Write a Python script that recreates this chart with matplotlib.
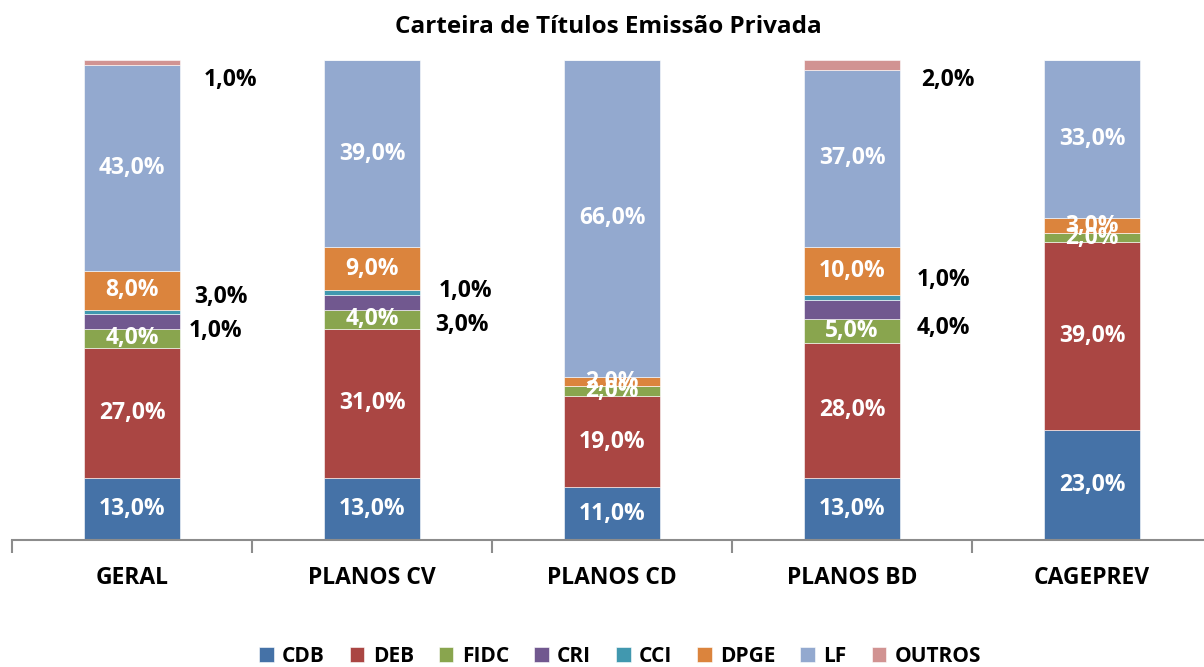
import numpy as np
import matplotlib.pyplot as plt

plt.rcParams['font.family'] = ['Open Sans', 'DejaVu Sans']
plt.rcParams['font.weight'] = 'bold'

categorias = ['GERAL', 'PLANOS CV', 'PLANOS CD', 'PLANOS BD', 'CAGEPREV']
series = ['CDB', 'DEB', 'FIDC', 'CRI', 'CCI', 'DPGE', 'LF', 'OUTROS']

cdb = [13, 13, 11, 13, 23]
deb = [27, 31, 19, 28, 39]
fidc = [4, 4, 2, 5, 2]
cri = [3, 3, 0, 4, 0]
cci = [1, 1, 0, 1, 0]
dpge = [8, 9, 2, 10, 3]
lf = [43, 39, 66, 37, 33]
outros = [1, 0, 0, 2, 0]

cores = ['#4572A7', '#AA4643', '#89A54E', '#71588F', '#4198AF',
         '#DB843D', '#93A9CF', '#D19392']

valores = [cdb, deb, fidc, cri, cci, dpge, lf, outros]

# rótulos deslocados para fora das barras (posição em coordenadas de dados)
rotulos_fora = {
    (0, 'CRI'): (0.37, 50.6),
    (0, 'CCI'): (0.35, 43.5),
    (0, 'OUTROS'): (0.41, 95.8),
    (1, 'CCI'): (1.39, 51.9),
    (1, 'CRI'): (1.375, 44.8),
    (3, 'OUTROS'): (3.40, 95.8),
    (3, 'CCI'): (3.38, 54.2),
    (3, 'CRI'): (3.38, 44.2),
}

fig = plt.figure(figsize=(12.04, 6.67), dpi=100)
ax = fig.add_axes([12 / 1204, 127 / 667, 1200 / 1204, 480 / 667])

x = np.arange(len(categorias))
base = np.zeros(len(categorias))
for nome, vals, cor in zip(series, valores, cores):
    vals = np.array(vals, dtype=float)
    ax.bar(x, vals, 0.4, bottom=base, color=cor, label=nome,
           edgecolor='white', linewidth=0.4)
    for i, v in enumerate(vals):
        if v <= 0:
            continue
        txt = f'{v:.1f}%'.replace('.', ',')
        if (i, nome) in rotulos_fora:
            px, py = rotulos_fora[(i, nome)]
            ax.text(px, py, txt, ha='center', va='center', fontsize=16.5,
                    fontweight='bold', color='black')
        elif nome not in ('CRI', 'CCI', 'OUTROS'):
            ax.text(i, base[i] + v / 2, txt, ha='center', va='center',
                    fontsize=16.5, fontweight='bold', color='white')
    base += vals

ax.set_xlim(-0.5, 4.5)
ax.set_ylim(0, 100)
ax.set_yticks([])
for s in ['left', 'top', 'right']:
    ax.spines[s].set_visible(False)
ax.spines['bottom'].set_color('#8C8C8C')
ax.spines['bottom'].set_linewidth(1.5)

ax.set_xticks(x)
ax.set_xticklabels(categorias, fontsize=16.5, fontweight='bold')
ax.tick_params(axis='x', which='major', length=0, pad=19)
ax.set_xticks(np.arange(-0.5, 5, 1), minor=True)
ax.tick_params(axis='x', which='minor', length=9, width=1.5, color='#8C8C8C')

fig.text(0.505, 1 - 27 / 667, 'Carteira de Títulos Emissão Privada',
         ha='center', va='center', fontsize=17.5, fontweight='bold')

fig.legend(loc='center', bbox_to_anchor=(0.515, 1 - 656 / 667), ncol=8,
           frameon=False, fontsize=15, handlelength=0.7, handleheight=0.7,
           handletextpad=0.4, columnspacing=1.2)

fig.savefig('out.png', dpi=100)
